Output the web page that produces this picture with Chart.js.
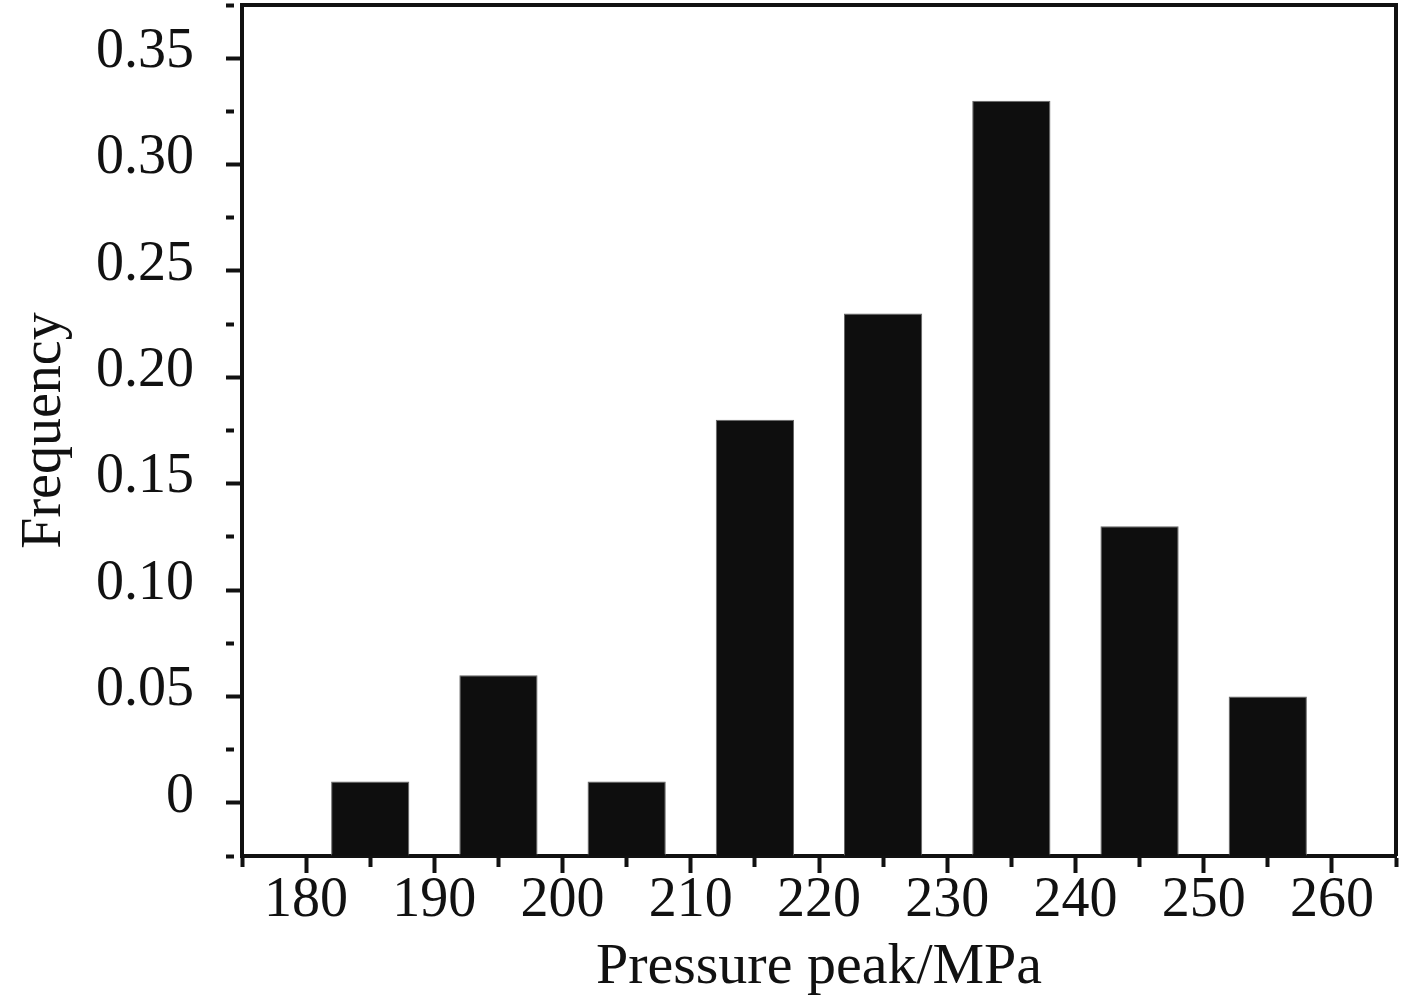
<!DOCTYPE html>
<html>
<head>
<meta charset="utf-8">
<script src="https://cdn.jsdelivr.net/npm/chart.js@4/dist/chart.umd.min.js"></script>
<style>
  html, body { margin: 0; padding: 0; background: #fff; }
  #wrap { width: 1417px; height: 1003px; }
</style>
</head>
<body>
<div id="wrap"><canvas id="histChart" width="1417" height="1003"></canvas></div>
<script>
// histogram bins (MPa) and relative frequency
const binCenters = [185, 195, 205, 215, 225, 235, 245, 255];
const frequency = [0.01, 0.06, 0.01, 0.18, 0.23, 0.33, 0.13, 0.05];

const xRange = [175, 265];
const yRange = [-0.025, 0.375];
const xLabelStep = 10;
const yLabelValues = [0, 0.05, 0.10, 0.15, 0.20, 0.25, 0.30, 0.35];

const ink = '#111';
const serif = "'Liberation Serif', 'Times New Roman', serif";

// frame around the plot area (top + right sides)
const framePlugin = {
  id: 'frame',
  afterDatasetsDraw(chart) {
    const { ctx, chartArea: a } = chart;
    ctx.save();
    ctx.strokeStyle = ink;
    ctx.lineWidth = 4;
    ctx.beginPath();
    ctx.moveTo(a.left, a.top);
    ctx.lineTo(a.right, a.top);
    ctx.lineTo(a.right, a.bottom);
    ctx.stroke();
    ctx.restore();
  }
};

const isMajorX = v => Math.round(v) % xLabelStep === 0;
const isMajorY = v => yLabelValues.some(t => Math.abs(t - v) < 1e-6);
// minor ticks: draw only the first few px of the tick line
const xTickDash = c => (!c.tick || isMajorX(c.tick.value)) ? [] : [9, 100];
const yTickDash = c => (!c.tick || isMajorY(c.tick.value)) ? [] : [8, 100];

new Chart(document.getElementById('histChart').getContext('2d'), {
  type: 'bar',
  data: {
    datasets: [{
      data: binCenters.map((c, i) => ({ x: c, y: frequency[i] })),
      backgroundColor: '#0e0e0e',
      borderColor: '#666',
      borderWidth: 1,
      base: yRange[0],
      // width is relative to the 5 MPa tick spacing -> 6 MPa wide bars
      barPercentage: 1.22,
      categoryPercentage: 1
    }]
  },
  options: {
    responsive: false,
    animation: false,
    layout: { padding: { top: 5, right: 21, left: 0, bottom: 0 } },
    plugins: { legend: { display: false }, tooltip: { enabled: false } },
    scales: {
      x: {
        type: 'linear',
        min: xRange[0],
        max: xRange[1],
        offset: false,
        afterFit: s => { s.height = 147; s.paddingLeft = 0; s.paddingRight = 0; },
        border: { color: ink, width: 4 },
        grid: {
          offset: false,
          drawOnChartArea: false,
          tickLength: 17,
          tickColor: ink,
          tickWidth: 4,
          tickBorderDash: xTickDash
        },
        ticks: {
          stepSize: 5,
          autoSkip: false,
          maxRotation: 0,
          color: ink,
          padding: -5,
          font: { family: serif, size: 56 },
          callback: v => isMajorX(v) ? String(v) : ''
        },
        title: {
          display: true,
          text: 'Pressure peak/MPa',
          color: ink,
          font: { family: serif, size: 58 },
          padding: { top: 0, bottom: 0 }
        }
      },
      y: {
        min: yRange[0],
        max: yRange[1],
        afterFit: s => { s.width = 242; s.paddingTop = 0; s.paddingBottom = 0; },
        border: { color: ink, width: 4 },
        grid: {
          drawOnChartArea: false,
          tickLength: 16,
          tickColor: ink,
          tickWidth: 4,
          tickBorderDash: yTickDash
        },
        ticks: {
          stepSize: 0.025,
          autoSkip: false,
          color: ink,
          padding: 32,
          labelOffset: -6,
          font: { family: serif, size: 56 },
          callback: v => {
            if (!isMajorY(v)) return '';
            const r = Math.round(v * 100) / 100;
            return r === 0 ? '0' : r.toFixed(2);
          }
        },
        title: {
          display: true,
          text: 'Frequency',
          color: ink,
          font: { family: serif, size: 56 },
          padding: { top: 12, bottom: 0 }
        }
      }
    }
  },
  plugins: [framePlugin]
});
</script>
</body>
</html>
